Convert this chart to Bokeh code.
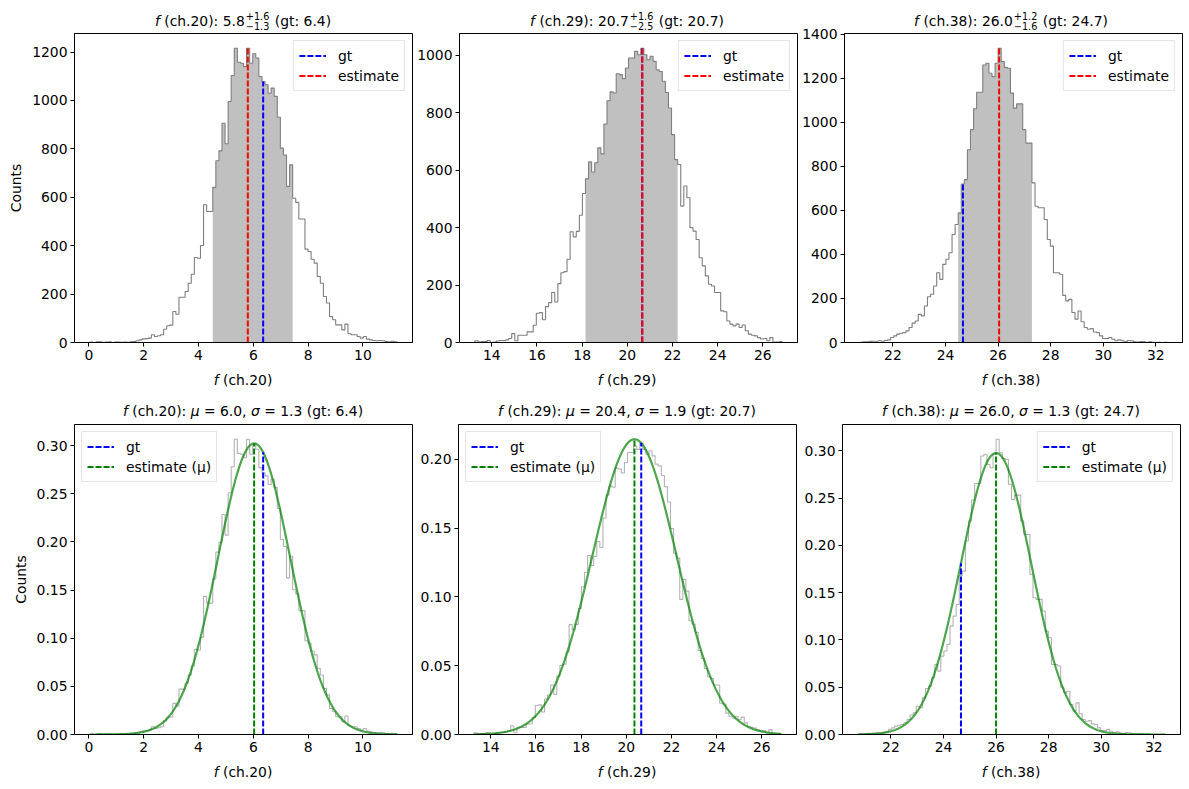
import numpy as np
from bokeh.plotting import figure
from bokeh.layouts import column, row
from bokeh.models import FixedTicker, PrintfTickFormatter, Range1d, Div
from bokeh.embed import file_html
from bokeh.resources import INLINE

# ---------------- data ----------------
channels = ["ch.20", "ch.29", "ch.38"]
data_min = [0.035, 13.25, 20.744]
data_max = [11.25, 26.854, 32.430]

counts_ch20 = [2, 0, 3, 3, 1, 2, 3, 0, 2, 2, 1, 2, 1, 3, 4,
               7, 11, 15, 16, 18, 32, 25, 28, 32, 55, 69, 72, 128, 117, 187,
               187, 211, 245, 282, 351, 348, 401, 569, 541, 541,
               641, 751, 792, 906, 821, 996, 1103, 1216, 1158, 1154,
               1140, 1216, 1154, 1193, 1175, 1099, 1078, 1065, 1030, 1051,
               1017, 931, 803, 775, 645, 734, 596, 579, 510, 510,
               386, 376, 344, 328, 273, 245, 190, 163, 107, 94,
               73, 73, 52, 76, 36, 32, 32, 25, 18, 25,
               14, 11, 8, 7, 8, 7, 4, 3, 5, 3]
counts_ch29 = [6, 2, 3, 3, 7, 0, 2, 5, 7, 7,
               9, 14, 31, 6, 25, 25, 25, 37, 37, 60,
               102, 104, 79, 125, 139, 174, 141, 205, 243, 247,
               290, 386, 368, 387, 443, 519, 570, 629, 594, 626,
               678, 657, 761, 842, 873, 869, 936, 933, 919, 956,
               991, 991, 1014, 1002, 1025, 1002, 985, 997, 979, 950,
               944, 910, 871, 817, 724, 637, 620, 475, 545, 504,
               400, 388, 359, 295, 267, 232, 203, 197, 174, 174,
               110, 107, 75, 64, 58, 64, 52, 61, 41, 29,
               25, 23, 17, 12, 14, 6, 17, 2, 2, 3]
counts_ch38 = [1, 3, 3, 5, 6, 6, 8, 6, 9, 12,
               23, 30, 38, 42, 45, 53, 68, 88, 98, 128,
               121, 166, 208, 219, 257, 317, 287, 355, 378, 408,
               491, 536, 589, 720, 740, 876, 967, 1062, 1137, 1137,
               1261, 1269, 1223, 1208, 1269, 1337, 1276, 1250, 1246, 1133,
               1065, 1084, 1084, 967, 906, 906, 725, 619, 612, 612,
               559, 468, 438, 317, 317, 310, 214, 189, 196, 136,
               106, 143, 94, 68, 60, 63, 48, 45, 30, 18,
               18, 23, 15, 8, 12, 8, 3, 9, 8, 3,
               2, 4, 3, 1, 3, 1, 0, 1, 0, 1]
all_counts = [counts_ch20, counts_ch29, counts_ch38]

gt_values = [6.36, 20.66, 24.665]
estimates = [5.80, 20.66, 26.04]
err_plus = [1.6, 1.6, 1.2]
err_minus = [1.3, 2.5, 1.6]
fit_mu = [6.03, 20.36, 26.0]
fit_sigma = [1.32, 1.86, 1.34]

x_ticks = [[0, 2, 4, 6, 8, 10],
           [14, 16, 18, 20, 22, 24, 26],
           [22, 24, 26, 28, 30, 32]]
y_ticks_top = [[0, 200, 400, 600, 800, 1000, 1200],
               [0, 200, 400, 600, 800, 1000],
               [0, 200, 400, 600, 800, 1000, 1200, 1400]]
y_ticks_bottom = [[0.0, 0.05, 0.10, 0.15, 0.20, 0.25, 0.30],
                  [0.0, 0.05, 0.10, 0.15, 0.20],
                  [0.0, 0.05, 0.10, 0.15, 0.20, 0.25, 0.30]]

# ---------------- style / layout ----------------
FONT = "DejaVu Sans"
FS = 13.9
FW = 338
FH_TOP, FH_BOT = 309, 310
BORDERS_LR = [(74, 2), (44, 2), (44, 9)]
BASE_CSS = (f"font-family:'DejaVu Sans';font-size:{FS}px;color:#000;white-space:nowrap;"
            "text-align:center;")


def text_div(inner, bl, br, height, pad_top, line_h=16):
    html = (f'<div style="{BASE_CSS}width:{FW}px;margin-left:{bl}px;'
            f'padding-top:{pad_top}px;line-height:{line_h}px;">{inner}</div>')
    return Div(text=html, width=bl + FW + br, height=height, margin=0)


def it(t):
    return f'<span style="font-style:italic">{t}</span>'


def supsub(sup, sub):
    return ('<span style="display:inline-block;vertical-align:-0.45em;font-size:9.7px;'
            'line-height:10px;text-align:left;margin:0 1px 0 1px">'
            f'<span style="display:block">{sup}</span>'
            f'<span style="display:block">{sub}</span></span>')


def style(p, xt, yt, fmt=None):
    p.xgrid.visible = False
    p.ygrid.visible = False
    p.outline_line_color = "black"
    p.outline_line_width = 1
    p.background_fill_color = "white"
    p.border_fill_color = None
    for ax in (p.xaxis[0], p.yaxis[0]):
        ax.major_tick_out = 4
        ax.major_tick_in = 0
        ax.minor_tick_out = 0
        ax.minor_tick_in = 0
        ax.major_label_standoff = 3
        ax.major_label_text_font = FONT
        ax.major_label_text_font_size = f"{FS}px"
        ax.major_label_text_color = "black"
        ax.axis_line_color = "black"
        ax.major_tick_line_color = "black"
    p.xaxis[0].ticker = FixedTicker(ticks=xt)
    p.yaxis[0].ticker = FixedTicker(ticks=yt)
    if fmt:
        p.yaxis[0].formatter = PrintfTickFormatter(format=fmt)


def style_legend(p, loc):
    lg = p.legend[0]
    lg.location = loc
    lg.label_text_font = FONT
    lg.label_text_font_size = f"{FS}px"
    lg.label_text_color = "black"
    lg.border_line_color = "#cccccc"
    lg.border_line_width = 1
    lg.background_fill_alpha = 0.8
    lg.margin = 7
    lg.padding = 5
    lg.spacing = 1
    lg.glyph_width = 27
    lg.glyph_height = 19
    lg.label_height = 19
    lg.label_standoff = 12


def ylabel(p):
    ax = p.yaxis[0]
    ax.axis_label = "Counts"
    ax.axis_label_text_font = FONT
    ax.axis_label_text_font_size = f"{FS}px"
    ax.axis_label_text_font_style = "normal"
    ax.axis_label_text_color = "black"
    ax.axis_label_standoff = 5


top_titles, top_figs, top_xl = [], [], []
bot_titles, bot_figs, bot_xl = [], [], []
for i, ch in enumerate(channels):
    counts = np.array(all_counts[i], dtype=float)
    nb = len(counts)
    edges = np.linspace(data_min[i], data_max[i], nb + 1)
    bw = edges[1] - edges[0]
    centers = 0.5 * (edges[:-1] + edges[1:])
    span = data_max[i] - data_min[i]
    xr = (data_min[i] - 0.05 * span, data_max[i] + 0.05 * span)
    bl, br = BORDERS_LR[i]

    sx = np.repeat(edges, 2)
    sy_counts = np.concatenate([[0], np.repeat(counts, 2), [0]])

    # ---------- top ----------
    p = figure(frame_width=FW, frame_height=FH_TOP, output_backend="svg", toolbar_location=None,
               x_range=Range1d(*xr), y_range=Range1d(0, counts.max() * 1.05),
               min_border_left=bl, min_border_right=br, min_border_top=9, min_border_bottom=26)
    style(p, x_ticks[i], y_ticks_top[i])
    mask = (centers >= estimates[i] - err_minus[i]) & (centers <= estimates[i] + err_plus[i])
    idx = np.nonzero(mask)[0]
    e_sel = edges[idx[0]: idx[-1] + 2]
    px = np.repeat(e_sel, 2)
    py = np.concatenate([[0], np.repeat(counts[mask], 2), [0]])
    p.patch(px, py, fill_color="#c0c0c0", line_color=None)
    p.line(sx, sy_counts, line_color="#7f7f7f", line_width=1.1)
    gi = np.searchsorted(edges, gt_values[i]) - 1
    ei = np.searchsorted(edges, estimates[i]) - 1
    p.segment(x0=[gt_values[i]], y0=[0], x1=[gt_values[i]], y1=[counts[gi]],
              line_color="#0000ff", line_width=2, line_dash="6 2", legend_label="gt")
    p.segment(x0=[estimates[i]], y0=[0], x1=[estimates[i]], y1=[counts[ei]],
              line_color="#ff0000", line_width=2, line_dash="6 2", legend_label="estimate")
    style_legend(p, "top_right")
    if i == 0:
        ylabel(p)
    top_figs.append(p)
    t_inner = (f"{it('f')} ({ch}): {estimates[i]:.1f}"
               + supsub(f"+{err_plus[i]:.1f}", f"−{err_minus[i]:.1f}")
               + f" (gt: {gt_values[i]:.1f})")
    top_titles.append(text_div(t_inner, bl, br, 24, 12))
    top_xl.append(text_div(f"{it('f')} ({ch})", bl, br, 24, 4))

    # ---------- bottom ----------
    dens = counts / (counts.sum() * bw)
    sy_dens = np.concatenate([[0], np.repeat(dens, 2), [0]])
    mu, sg = fit_mu[i], fit_sigma[i]
    gx = np.linspace(data_min[i], data_max[i], 400)
    pdf = lambda v: np.exp(-0.5 * ((v - mu) / sg) ** 2) / (sg * np.sqrt(2 * np.pi))
    gy = pdf(gx)
    ymax = max(dens.max(), gy.max()) * 1.05
    q = figure(frame_width=FW, frame_height=FH_BOT, output_backend="svg", toolbar_location=None,
               x_range=Range1d(*xr), y_range=Range1d(0, ymax),
               min_border_left=bl, min_border_right=br, min_border_top=9, min_border_bottom=26)
    style(q, x_ticks[i], y_ticks_bottom[i], "%.2f")
    q.line(sx, sy_dens, line_color="#808080", line_alpha=0.6, line_width=1.1)
    q.line(gx, gy, line_color="#008000", line_alpha=0.7, line_width=2.2)
    q.segment(x0=[gt_values[i]], y0=[0], x1=[gt_values[i]], y1=[pdf(gt_values[i])],
              line_color="#0000ff", line_width=2, line_dash="6 2", legend_label="gt")
    q.segment(x0=[mu], y0=[0], x1=[mu], y1=[pdf(mu)],
              line_color="#008000", line_width=2, line_dash="6 2", legend_label="estimate (μ)")
    style_legend(q, "top_right" if i == 2 else "top_left")
    if i == 0:
        ylabel(q)
    bot_figs.append(q)
    b_inner = (f"{it('f')} ({ch}): {it('μ')} = {mu:.1f}, {it('σ')} = {sg:.1f}"
               f" (gt: {gt_values[i]:.1f})")
    bot_titles.append(text_div(b_inner, bl, br, 23, 11))
    bot_xl.append(text_div(f"{it('f')} ({ch})", bl, br, 29, 4))

layout = column(row(*top_titles), row(*top_figs), row(*top_xl),
                row(*bot_titles), row(*bot_figs), row(*bot_xl))
open("out.html", "w").write(file_html(layout, INLINE))
